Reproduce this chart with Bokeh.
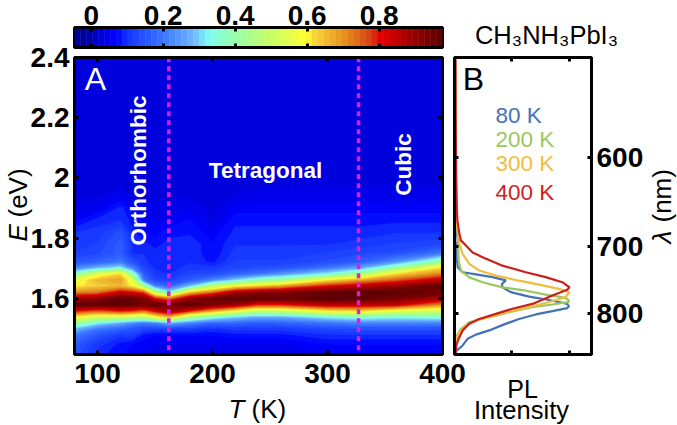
import numpy as np
from bokeh.plotting import figure
from bokeh.layouts import column, row
from bokeh.models import (Range1d, LinearAxis, FixedTicker, Label, CustomJSTickFormatter)
from bokeh.embed import file_html
from bokeh.resources import INLINE

FONT = "Liberation Sans"

# ---------- data ----------
E_grid = [1.41, 1.45, 1.48, 1.50, 1.52, 1.54, 1.56, 1.58, 1.60, 1.62, 1.64, 1.66, 1.68, 1.70, 1.72,
          1.75, 1.78, 1.82, 1.86, 1.90, 1.95, 2.0, 2.4]
T_grid = [80, 100, 120, 130, 140, 150, 162, 180, 200, 220, 240, 260, 300, 330, 360, 400]

PL_T080 = [.14,.16,.20,.28,.42,.60,.80,.97,.87,.70,.60,.56,.38,.22,.15,.12,.11,.10,.06,.04,.03,.03,.03]
PL_T100 = [.09,.11,.15,.20,.33,.52,.75,.96,.90,.72,.63,.65,.55,.28,.17,.13,.12,.11,.09,.05,.03,.03,.03]
PL_T120 = [.07,.08,.11,.17,.27,.52,.80,.96,.96,.82,.65,.68,.62,.33,.20,.16,.16,.14,.10,.09,.04,.03,.03]
PL_T130 = [.05,.07,.12,.15,.23,.50,.78,.96,.95,.80,.60,.55,.40,.22,.15,.10,.10,.09,.08,.06,.03,.03,.03]
PL_T140 = [.05,.06,.08,.13,.20,.47,.74,.94,.93,.75,.45,.20,.16,.13,.11,.10,.09,.07,.06,.04,.03,.03,.03]
PL_T150 = [.05,.05,.07,.12,.22,.58,.82,.97,.78,.48,.22,.13,.11,.10,.09,.09,.08,.06,.05,.04,.03,.03,.03]
PL_T162 = [.05,.05,.07,.12,.27,.65,.90,.93,.70,.32,.17,.12,.10,.09,.09,.09,.09,.08,.05,.04,.03,.03,.03]
PL_T180 = [.05,.05,.07,.12,.22,.45,.80,.97,.88,.62,.28,.16,.13,.11,.10,.10,.10,.08,.07,.05,.03,.03,.03]
PL_T200 = [.03,.05,.07,.10,.17,.36,.68,.93,.95,.72,.48,.22,.14,.11,.08,.07,.07,.06,.03,.03,.03,.03,.03]
PL_T220 = [.03,.05,.08,.11,.18,.30,.58,.88,.97,.86,.58,.30,.17,.13,.12,.11,.10,.09,.08,.06,.035,.03,.03]
PL_T240 = [.03,.05,.08,.11,.16,.26,.48,.78,.97,.90,.63,.38,.20,.14,.12,.11,.10,.09,.08,.06,.04,.03,.03]
PL_T260 = [.03,.05,.08,.11,.17,.27,.50,.78,.95,.92,.68,.42,.24,.15,.12,.11,.10,.09,.08,.06,.04,.03,.03]
PL_T300 = [.05,.07,.10,.13,.20,.33,.60,.85,.97,.96,.80,.60,.33,.20,.14,.12,.10,.09,.08,.06,.04,.03,.03]
PL_T330 = [.05,.07,.10,.14,.22,.36,.62,.85,.96,.97,.85,.68,.45,.27,.17,.13,.11,.09,.08,.06,.04,.03,.03]
PL_T360 = [.05,.07,.10,.14,.22,.33,.55,.83,.93,.97,.90,.75,.62,.42,.24,.14,.12,.10,.08,.06,.04,.03,.03]
PL_T400 = [.04,.07,.10,.14,.22,.36,.52,.70,.85,.95,.97,.85,.72,.62,.42,.20,.13,.10,.08,.06,.04,.03,.03]

phase_T = [162, 327]

I_80 = [.007,.019,.071,.114,.187,.303,.433,.564,.709,.854,.984,.999,.984,.825,.651,.491,.419,.413,.448,.332,.187,.071,.028,.019,.019,.028,.015,.010,.006]
E_80 = [1.416,1.427,1.444,1.466,1.480,1.494,1.514,1.532,1.547,1.558,1.568,1.574,1.582,1.595,1.606,1.621,1.637,1.648,1.660,1.671,1.680,1.687,1.704,1.737,1.770,1.792,1.85,2.0,2.4]
I_200 = [.013,.057,.129,.245,.361,.506,.680,.854,.993,.999,.970,.796,.593,.419,.245,.129,.057,.036,.033,.036,.020,.012,.006]
E_200 = [1.472,1.499,1.521,1.534,1.543,1.557,1.571,1.580,1.588,1.593,1.602,1.613,1.628,1.637,1.654,1.670,1.692,1.726,1.770,1.792,1.85,2.0,2.4]
I_300 = [.013,.042,.100,.187,.303,.448,.622,.796,.970,1.004,.912,.738,.564,.361,.216,.129,.071,.048,.036,.020,.012,.006]
E_300 = [1.460,1.488,1.510,1.527,1.538,1.554,1.569,1.585,1.604,1.621,1.632,1.646,1.659,1.676,1.693,1.715,1.748,1.776,1.792,1.85,2.0,2.4]
I_400 = [.007,.019,.036,.071,.129,.216,.361,.506,.680,.854,.984,1.004,.941,.796,.622,.419,.245,.158,.100,.071,.057,.040,.025,.020,.015,.010,.008]
E_400 = [1.416,1.449,1.466,1.494,1.516,1.532,1.549,1.566,1.582,1.610,1.629,1.637,1.654,1.671,1.687,1.709,1.737,1.753,1.776,1.787,1.792,1.82,1.86,1.90,2.0,2.2,2.4]

curves = [(I_80, E_80, "#4472b8", "80 K"), (I_200, E_200, "#9bc85a", "200 K"),
          (I_300, E_300, "#f0be3c", "300 K"), (I_400, E_400, "#cd1e1e", "400 K")]

cb_ticks = [0, 0.2, 0.4, 0.6, 0.8]
T_ticks = [100, 200, 300, 400]
E_ticks = [1.6, 1.8, 2.0, 2.2, 2.4]
lam_ticks = [600, 700, 800]

# ---------- colour scale ----------
stops_v = [-0.047, 0.0, 0.03, 0.07, 0.10, 0.20, 0.28, 0.33, 0.40, 0.50, 0.60, 0.62, 0.70, 0.78, 0.80, 0.90, 0.976]
stops_r = [0, 0, 0, 0, 20, 60, 110, 130, 150, 200, 255, 250, 230, 215, 230, 150, 90]
stops_g = [0, 0, 0, 0, 50, 120, 180, 255, 255, 255, 255, 215, 150, 60, 0, 0, 0]
stops_b = [140, 170, 225, 255, 255, 255, 255, 240, 170, 100, 50, 60, 30, 20, 0, 0, 0]
cb_lo, cb_hi = -0.0464, 0.9757
n_lev = 62
levels = np.linspace(cb_lo, cb_hi, n_lev + 1)
mids = 0.5 * (levels[:-1] + levels[1:])
palette = ["#%02x%02x%02x" % (int(np.interp(m, stops_v, stops_r)), int(np.interp(m, stops_v, stops_g)),
                              int(np.interp(m, stops_v, stops_b))) for m in mids]

# ---------- geometry (window pixels) ----------
W, H = 677, 425
L, R, T, B = 74, 442, 57, 354
SL, SR = 454, 591
E_lo, E_hi = 1.414, 2.4
blank = CustomJSTickFormatter(code="return ''")
E_rng = Range1d(E_lo, E_hi)

def style(ax, ticks, labelled=True, standoff=4):
    ax.ticker = FixedTicker(ticks=ticks)
    ax.axis_line_color = "black"
    ax.axis_line_width = 3
    ax.major_tick_in = 4
    ax.major_tick_out = 0
    ax.major_tick_line_color = "black"
    ax.major_tick_line_width = 3
    ax.minor_tick_line_color = None
    ax.major_label_standoff = standoff
    ax.major_label_text_font = FONT
    ax.major_label_text_font_style = "bold"
    ax.major_label_text_font_size = "28px"
    ax.major_label_text_color = "black"
    if not labelled:
        ax.formatter = blank

def put(p, text, x, y, size, color="black", style_="normal", angle=0, align="center"):
    p.add_layout(Label(x=x, y=y, text=text, text_font=FONT, text_font_size=f"{size}px", text_color=color,
                       text_font_style=style_, angle=angle, text_align=align, text_baseline="middle"))

# ---------- colour bar ----------
cb = figure(width=W, height=52, x_range=Range1d(cb_lo, cb_hi), y_range=Range1d(0, 1), output_backend="svg",
            toolbar_location=None, x_axis_location="above", y_axis_location=None, frame_align=False,
            min_border_left=L, min_border_right=W - R, min_border_top=27, min_border_bottom=5)
cb.quad(left=levels[:-1], right=levels[1:], bottom=0, top=1, fill_color=palette, line_color=palette, line_width=0.5)
cb.grid.visible = False
cb.outline_line_color = "black"
cb.outline_line_width = 3
style(cb.xaxis[0], cb_ticks, standoff=3)
ax = LinearAxis()
style(ax, cb_ticks, labelled=False)
cb.add_layout(ax, "below")

# ---------- main panel ----------
OVER_T = 15     # panel figure overlaps the colour bar figure so that "2.4" is not cut
OVER_S = 26     # side figure overlaps the main one so that "400" is not cut
main_w = 448 + OVER_S
main_h = H - 52 + OVER_T
main = figure(width=main_w, height=main_h, x_range=Range1d(80, 400), y_range=E_rng, output_backend="svg",
              toolbar_location=None, min_border_left=L, min_border_right=main_w - R, frame_align=False,
              min_border_top=T - (52 - OVER_T), min_border_bottom=H - B,
              background_fill_color=palette[4], border_fill_color=None)
main.grid.visible = False
main.outline_line_color = "black"
main.outline_line_width = 3
z = np.array([PL_T080, PL_T100, PL_T120, PL_T130, PL_T140, PL_T150, PL_T162, PL_T180, PL_T200, PL_T220,
              PL_T240, PL_T260, PL_T300, PL_T330, PL_T360, PL_T400]).T
main.contour(T_grid, E_grid, z, levels=list(levels), fill_color=palette,
             line_color=palette + [palette[-1]], line_width=1.2)
for t in phase_T:
    main.line([t, t], [1.428, E_hi], line_color="#dc1edc", line_width=3.5, line_dash="5 4")
style(main.xaxis[0], T_ticks, standoff=9)
style(main.yaxis[0], E_ticks, standoff=5)
for side_ in ("above", "right"):
    ax = LinearAxis()
    style(ax, T_ticks if side_ == "above" else E_ticks, labelled=False)
    main.add_layout(ax, side_)

# ---------- side panel ----------
side_w = W - 448 + OVER_S
side = figure(width=side_w, height=main_h, x_range=Range1d(0, (SR - SL + 0.5) / 115), y_range=E_rng,
              output_backend="svg", toolbar_location=None, y_axis_location="right", frame_align=False,
              min_border_left=SL - (448 - OVER_S), min_border_right=W - SR,
              min_border_top=T - (52 - OVER_T), min_border_bottom=H - B,
              background_fill_color=None, border_fill_color=None, margin=(0, 0, 0, -2 * OVER_S))
side.grid.visible = False
side.outline_line_color = "black"
side.outline_line_width = 3
for I, E, c, name in curves:
    side.line(I, E, line_color=c, line_width=2.2)
E_lam = [1239.84 / l for l in lam_ticks]
style(side.yaxis[0], E_lam, standoff=5)
side.yaxis[0].major_label_overrides = {e: str(l) for e, l in zip(E_lam, lam_ticks)}
ax = LinearAxis(); style(ax, E_lam, labelled=False); side.add_layout(ax, "left")
style(side.xaxis[0], [0.5, 1.0], labelled=False)
ax = LinearAxis(); style(ax, [0.5, 1.0], labelled=False); side.add_layout(ax, "above")

# ---------- transparent sheet over everything, for the texts (window-pixel range) ----------
ann = figure(width=W, height=H, x_range=Range1d(0, W), y_range=Range1d(H, 0), output_backend="svg",
             toolbar_location=None, x_axis_location=None, y_axis_location=None, frame_align=False,
             min_border=0, background_fill_color=None, border_fill_color=None,
             outline_line_color=None, margin=(-H, 0, 0, 0))
ann.grid.visible = False

put(ann, "A", 95, 78, 32, "white")
put(ann, "Orthorhombic", 138, 170, 22.5, "white", "bold", np.pi / 2)
put(ann, "Tetragonal", 265, 170, 22.5, "white", "bold")
put(ann, "Cubic", 403, 164, 22.5, "white", "bold", np.pi / 2)
put(ann, "T", 228, 408, 26, style_="italic", align="left")
put(ann, "(K)", 251, 408, 26, align="left")
put(ann, "E", 17, 241, 26, style_="italic", angle=np.pi / 2, align="left")
put(ann, "(eV)", 17, 217, 26, angle=np.pi / 2, align="left")
put(ann, "B", 473, 78, 32)
for (I, E, c, name), py in zip(curves, [115, 139, 163, 192]):
    put(ann, name, 495, py, 22.5, c, align="left")
put(ann, "PL", 522, 388, 25)
put(ann, "Intensity", 521, 409, 25.5)
put(ann, "\u03bb", 661, 243, 26, style_="italic", angle=np.pi / 2, align="left")
put(ann, "(nm)", 661, 222, 26, angle=np.pi / 2, align="left")
put(ann, "CH\u2083NH\u2083PbI\u2083", 546, 34, 25.5)

root = column(cb, row(main, side, margin=(-OVER_T, 0, 0, 0)), ann, margin=(0, 0, 0, 0))
open("out.html", "w").write(file_html(root, INLINE))
